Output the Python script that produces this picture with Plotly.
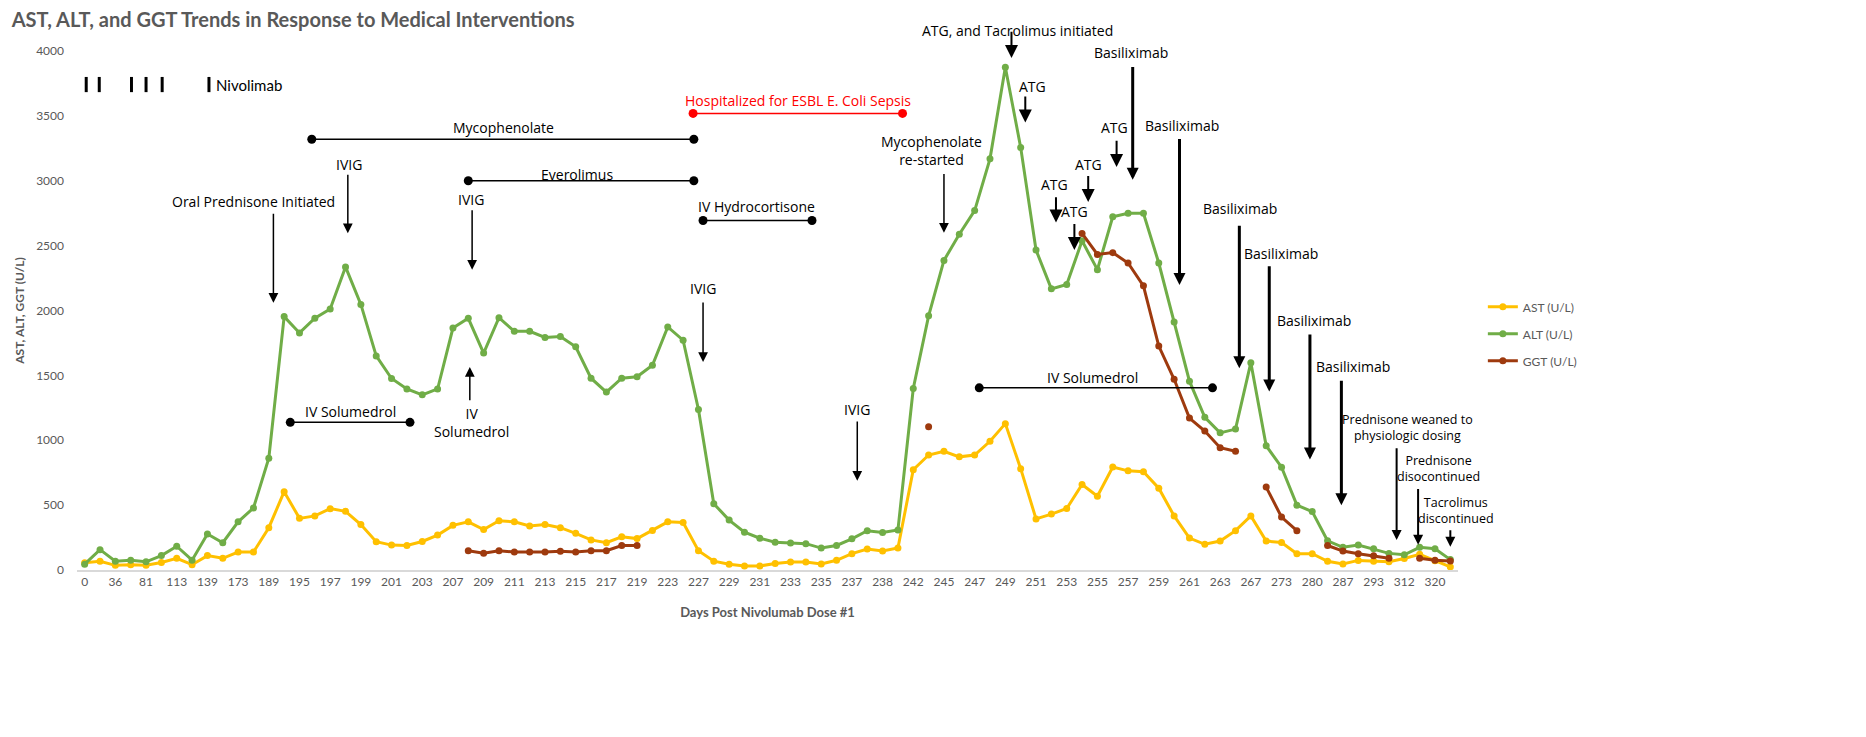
import plotly.graph_objects as go

# day labels shown on the axis (every second sample is labelled)
tick_days = [0, 36, 81, 113, 139, 173, 189, 195, 197, 199, 201, 203, 207, 209, 211,
             213, 215, 217, 219, 223, 227, 229, 231, 233, 235, 237, 238, 242, 245, 247,
             249, 251, 253, 255, 257, 259, 261, 263, 267, 273, 280, 287, 293, 312, 320]

ast = [55, 68, 36, 41, 36, 58, 90, 41, 111, 90, 138, 138, 326, 604, 398, 417, 473, 452,
       350, 218, 192, 189, 220, 269, 344, 371, 312, 379, 371, 339, 350, 326, 283, 232,
       210, 256, 242, 304, 371, 366, 149, 68, 44, 31, 31, 50, 61, 61, 47, 75, 126, 161,
       146, 169, 773, 886, 915, 872, 886, 992, 1128, 781, 394, 431, 474, 659, 568, 793,
       764, 758, 630, 417, 246, 198, 223, 303, 417, 223, 212, 126, 126, 67, 46, 74, 67,
       63, 89, 121, 72, 24]

alt = [45, 157, 68, 76, 63, 111, 183, 76, 277, 210, 371, 478, 862, 1953, 1827, 1940,
       2012, 2336, 2047, 1650, 1476, 1395, 1350, 1395, 1865, 1940, 1672, 1945, 1840,
       1840, 1792, 1800, 1720, 1478, 1371, 1478, 1489, 1578, 1873, 1771, 1237, 511, 385,
       291, 245, 214, 209, 203, 169, 189, 240, 303, 289, 309, 1399, 1959, 2386, 2588,
       2770, 3169, 3875, 3257, 2466, 2167, 2201, 2537, 2315, 2722, 2750, 2750, 2366,
       1911, 1455, 1177, 1057, 1086, 1598, 957, 792, 500, 450, 225, 175, 193, 163, 128,
       117, 175, 164, 80]

ggt = [None] * 25 + [149, 130, 149, 138, 138, 138, 144, 138, 149, 149, 189, 189] \
    + [None] * 18 + [1105] + [None] * 9 \
    + [2594, 2432, 2446, 2366, 2190, 1726, 1470, 1171, 1071, 943, 915, None,
       639, 408, 303, None, 189, 146, 126, 109, 90, None, 90, 75, 70]

idx = list(range(len(ast)))

# treatment periods: label, start, end, level, colour
periods = [
    ("Mycophenolate", 14.8, 39.7, 3320, "black"),
    ("Everolimus", 25.0, 39.7, 3000, "black"),
    ("IV Hydrocortisone", 40.3, 47.4, 2694, "black"),
    ("IV Solumedrol", 13.4, 21.2, 1138, "black"),
    ("IV Solumedrol", 58.3, 73.5, 1404, "black"),
    ("Hospitalized for ESBL E. Coli Sepsis", 39.65, 53.3, 3519, "red"),
]
period_labels = [(27.3, 3413), (32.1, 3052), (43.8, 2800), (17.3, 1225), (65.7, 1487), (46.5, 3615)]

# single events: text, text pos, arrow x, arrow tail, arrow head, arrow width
events = [
    ("Oral Prednisone Initiated", 11.0, 2843, 12.3, 2757, 2060, 1.5),
    ("IVIG", 17.25, 3127, 17.15, 3058, 2596, 1.5),
    ("IVIG", 25.2, 2856, 25.25, 2784, 2315, 1.5),
    ("IVIG", 40.3, 2167, 40.3, 2074, 1604, 1.5),
    ("IVIG", 50.3, 1236, 50.35, 1157, 687, 1.5),
    ("Mycophenolate<br>re-started", 55.2, 3230, 56.0, 3063, 2600, 1.5),
    ("ATG, and Tacrolimus initiated", 60.8, 4250, 60.4, 4159, 3946, 2),
    ("ATG", 61.8, 3727, 61.3, 3661, 3448, 2),
    ("ATG", 63.2, 2970, 63.3, 2884, 2679, 2),
    ("ATG", 64.5, 2765, 64.5, 2679, 2466, 2),
    ("ATG", 65.4, 3126, 65.4, 3049, 2836, 2),
    ("ATG", 67.1, 3414, 67.25, 3320, 3106, 2),
    ("Basiliximab", 68.2, 3988, 68.3, 3889, 3007, 3),
    ("Basiliximab", 71.5, 3425, 71.35, 3334, 2196, 3),
    ("Basiliximab", 75.3, 2787, 75.25, 2665, 1555, 3),
    ("Basiliximab", 77.95, 2437, 77.2, 2352, 1376, 3),
    ("Basiliximab", 80.1, 1925, 79.85, 1826, 852, 3),
    ("Basiliximab", 82.65, 1569, 81.9, 1470, 499, 3),
]
small_events = [
    ("Prednisone weaned to<br>physiologic dosing", 86.2, 1095, 85.5, 949, 232),
    ("Prednisone<br>disocontinued", 88.2, 785, 86.9, 636, 195),
    ("Tacrolimus<br>discontinued", 89.35, 458, 89.0, 317, 180),
]
nivolumab_doses = [0.1, 0.95, 3.05, 4.0, 5.05, 8.1]

y_top = 4000
grey = "#595959"
ann_font = dict(family="Open Sans", size=14, color="black")

fig = go.Figure()
series = [("AST (U/L)", ast, "#FFC000"), ("ALT (U/L)", alt, "#70AD47"), ("GGT (U/L)", ggt, "#9E3A0E")]
for name, vals, col in series:
    fig.add_trace(go.Scatter(
        x=idx, y=vals, name=name, mode="lines+markers", legendgroup=name,
        line=dict(color=col, width=3), marker=dict(color=col, size=7),
        connectgaps=False,
    ))

for (label, x0, x1, lvl, col) in periods:
    fig.add_trace(go.Scatter(
        x=[x0, x1], y=[lvl, lvl], mode="lines+markers", showlegend=False,
        line=dict(color=col, width=1.5), marker=dict(color=col, size=9), hoverinfo="skip",
    ))

annotations = []
for (label, x0, x1, lvl, col), (tx, ty) in zip(periods, period_labels):
    annotations.append(dict(x=tx, y=ty, text=label, showarrow=False,
                            font=dict(family="Open Sans", size=14, color=col)))

for text, tx, ty, axx, tail, head, w in events:
    if ty > y_top:
        # labels above the plotting area need paper coordinates to stay visible
        annotations.append(dict(x=tx, y=ty / y_top, yref="paper", text=text,
                                showarrow=False, font=ann_font))
    else:
        annotations.append(dict(x=tx, y=ty, text=text, showarrow=False, font=ann_font))
    annotations.append(dict(x=axx, y=head, ax=axx, ay=tail, axref="x", ayref="y",
                            text="", showarrow=True, arrowhead=2, arrowsize=1.3 if w < 3 else 0.8,
                            arrowwidth=w, arrowcolor="black"))

for text, tx, ty, axx, tail, head in small_events:
    annotations.append(dict(x=tx, y=ty, text=text, showarrow=False,
                            font=dict(family="Open Sans", size=12.5, color="black")))
    annotations.append(dict(x=axx, y=head, ax=axx, ay=tail, axref="x", ayref="y",
                            text="", showarrow=True, arrowhead=2, arrowsize=1,
                            arrowwidth=2, arrowcolor="black"))

annotations.append(dict(x=nivolumab_doses[-1] + 0.3, y=3737, text="Nivolimab", showarrow=False,
                        xanchor="left", font=dict(family="Lato", size=15, color="black")))
# IV Solumedrol upward arrow
annotations.append(dict(x=25.1, y=1564, ax=25.1, ay=1296, axref="x", ayref="y", text="",
                        showarrow=True, arrowhead=2, arrowsize=1.3, arrowwidth=1.5,
                        arrowcolor="black"))
annotations.append(dict(x=25.2, y=1133, text="IV<br>Solumedrol", showarrow=False, font=ann_font))

shapes = [dict(type="line", xref="x", yref="y", x0=d, x1=d, y0=3683, y1=3800,
               line=dict(color="black", width=3)) for d in nivolumab_doses]

fig.update_layout(
    width=1866, height=737,
    paper_bgcolor="white", plot_bgcolor="white",
    margin=dict(l=60, r=416, t=43, b=175),
    title=dict(text="<b>AST, ALT, and GGT Trends in Response to Medical Interventions</b>",
               x=0.002, xanchor="left", xref="container", y=0.984, yanchor="middle",
               font=dict(family="Lato", size=20, color=grey)),
    font=dict(family="Lato", color=grey),
    showlegend=True,
    legend=dict(x=1.018, y=0.535, xanchor="left", yanchor="top", tracegroupgap=8,
                font=dict(family="Lato", size=12, color=grey), bgcolor="rgba(0,0,0,0)"),
    annotations=annotations,
    shapes=shapes,
)
fig.update_xaxes(
    range=[-0.5, 89.5], tickmode="array",
    tickvals=idx[::2], ticktext=[str(d) for d in tick_days],
    showgrid=False, zeroline=False, showline=True, linecolor="#D9D9D9", linewidth=1.5,
    ticks="", tickfont=dict(family="Lato", size=12, color=grey),
    title=dict(text="<b>Days Post Nivolumab Dose #1</b>", standoff=20,
               font=dict(family="Lato", size=13, color=grey)),
)
fig.update_yaxes(
    range=[0, y_top], dtick=500, showgrid=False, zeroline=False, showline=False,
    ticks="", tickfont=dict(family="Lato", size=12, color=grey), ticklabelstandoff=12,
    title=dict(text="<b>AST, ALT, GGT (U/L)</b>", standoff=8,
               font=dict(family="Lato", size=12, color=grey)),
)

fig.write_html("out.html")
